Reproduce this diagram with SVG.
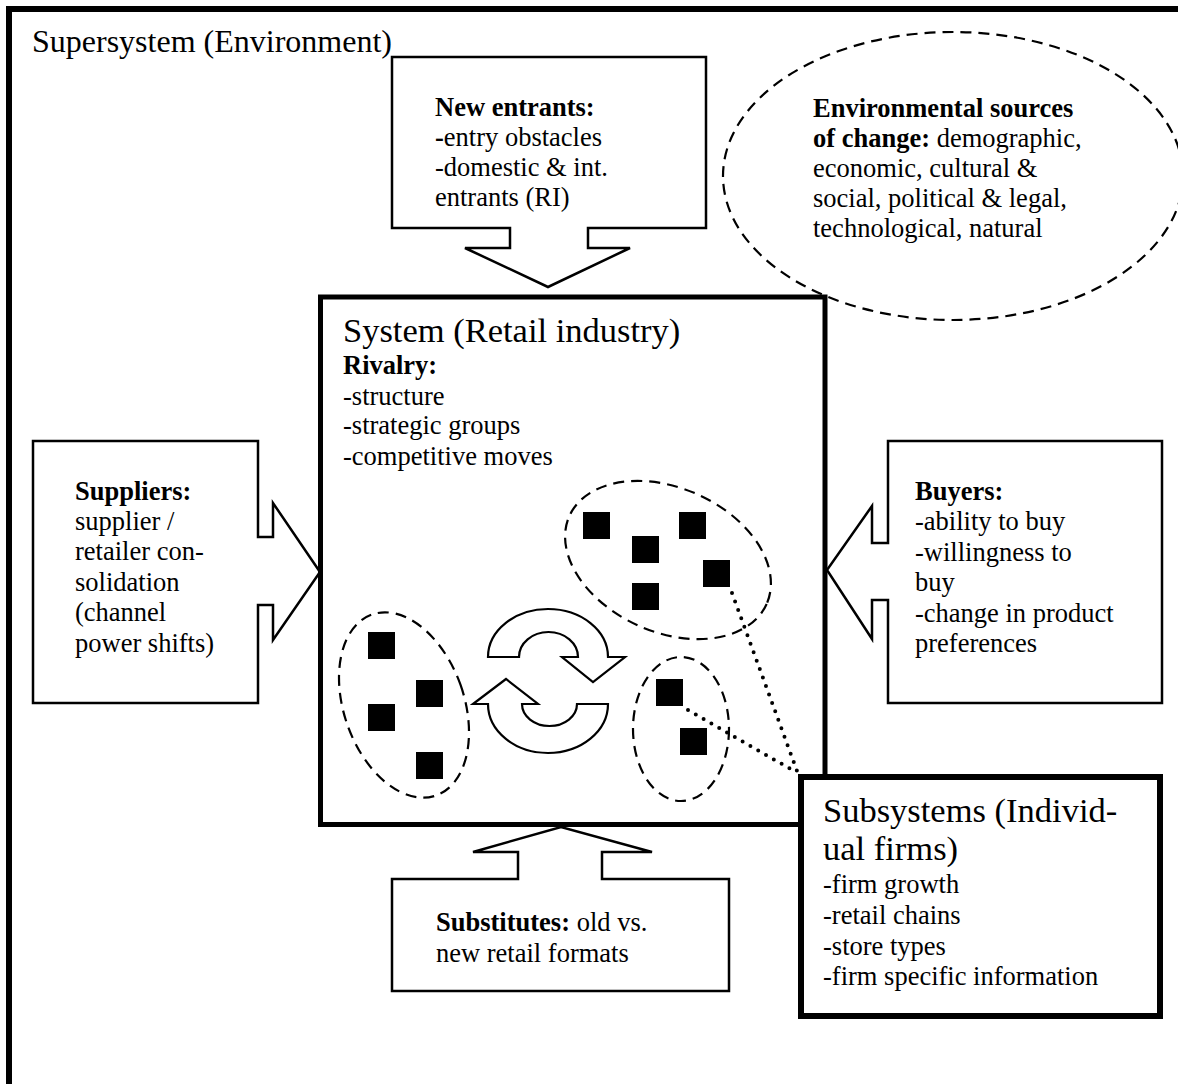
<svg xmlns="http://www.w3.org/2000/svg" width="1178" height="1084" viewBox="0 0 1178 1084">
<style>
text{font-family:"Liberation Serif","Times New Roman",serif;fill:#000}
.t{font-size:26.5px}
.h{font-size:34.5px}
.b{font-weight:bold}
.arrow{fill:#fff;stroke:#000;stroke-width:2.5;stroke-linejoin:miter}
.dash{fill:none;stroke:#000;stroke-width:2.2;stroke-dasharray:11 7}
.sq{fill:#000}
.dot{fill:none;stroke:#000;stroke-width:4;stroke-linecap:round;stroke-dasharray:0 9}
.cyc{fill:#fff;stroke:#000;stroke-width:2.2}
</style>
<rect width="1178" height="1084" fill="#fff"/>
<g id="supersystem">
<rect x="9" y="9" width="1220" height="1120" fill="none" stroke="#000" stroke-width="6"/>
<text x="32" y="52" style="font-size:32px">Supersystem (Environment)</text>
</g>
<g id="environment">
<ellipse class="dash" cx="953" cy="176" rx="230" ry="144"/>
<text class="t" x="813" y="117"><tspan class="b">Environmental sources</tspan></text>
<text class="t" x="813" y="147"><tspan class="b">of change:</tspan> demographic,</text>
<text class="t" x="813" y="177">economic, cultural &amp;</text>
<text class="t" x="813" y="207">social, political &amp; legal,</text>
<text class="t" x="813" y="237">technological, natural</text>
</g>
<g id="new-entrants">
<path class="arrow" d="M392,57 H706 V228 H588 V248 H630 L548,287 L465,248 H510 V228 H392 Z"/>
<text class="t" x="435" y="116"><tspan class="b">New entrants:</tspan></text>
<text class="t" x="435" y="146"><tspan class="b">-</tspan>entry obstacles</text>
<text class="t" x="435" y="176">-domestic &amp; int.</text>
<text class="t" x="435" y="206">entrants (RI)</text>
</g>
<g id="suppliers">
<path class="arrow" d="M33,441 H258 V537 H273 V503 L320,572 L273,640 V605 H258 V703 H33 Z"/>
<text class="t" x="75" y="500"><tspan class="b">Suppliers:</tspan></text>
<text class="t" x="75" y="530">supplier /</text>
<text class="t" x="75" y="560">retailer con-</text>
<text class="t" x="75" y="591">solidation</text>
<text class="t" x="75" y="621">(channel</text>
<text class="t" x="75" y="652">power shifts)</text>
</g>
<g id="buyers">
<path class="arrow" d="M888,441 H1162 V703 H888 V600 H872 V639 L827,570 L872,506 V543 H888 Z"/>
<text class="t" x="915" y="500"><tspan class="b">Buyers:</tspan></text>
<text class="t" x="915" y="530">-ability to buy</text>
<text class="t" x="915" y="561">-willingness to</text>
<text class="t" x="915" y="591">buy</text>
<text class="t" x="915" y="622">-change in product</text>
<text class="t" x="915" y="652">preferences</text>
</g>
<g id="substitutes">
<path class="arrow" d="M392,879 H518 V852 H473 L561,827 L652,852 H602 V879 H729 V991 H392 Z"/>
<text class="t" x="436" y="931"><tspan class="b">Substitutes:</tspan> old vs.</text>
<text class="t" x="436" y="962">new retail formats</text>
</g>
<g id="system">
<rect x="320.5" y="297" width="504.5" height="527.5" fill="none" stroke="#000" stroke-width="5"/>
<text class="h" x="343" y="342">System (Retail industry)</text>
<text class="t" x="343" y="374"><tspan class="b">Rivalry:</tspan></text>
<text class="t" x="343" y="405">-structure</text>
<text class="t" x="343" y="434">-strategic groups</text>
<text class="t" x="343" y="465">-competitive moves</text>
</g>
<g id="group-upper">
<ellipse class="dash" cx="668" cy="560" rx="108" ry="72" transform="rotate(24 668 560)"/>
<rect class="sq" x="583" y="512" width="27" height="27"/>
<rect class="sq" x="632" y="536" width="27" height="27"/>
<rect class="sq" x="679" y="512" width="27" height="27"/>
<rect class="sq" x="703" y="560" width="27" height="27"/>
<rect class="sq" x="632" y="583" width="27" height="27"/>
</g>
<g id="group-left">
<ellipse class="dash" cx="404" cy="705" rx="60" ry="96" transform="rotate(-19.5 404 705)"/>
<rect class="sq" x="368" y="632" width="27" height="27"/>
<rect class="sq" x="416" y="680" width="27" height="27"/>
<rect class="sq" x="368" y="704" width="27" height="27"/>
<rect class="sq" x="416" y="752" width="27" height="27"/>
</g>
<g id="group-small">
<ellipse class="dash" cx="681" cy="729" rx="48" ry="72"/>
<rect class="sq" x="656" y="679" width="27" height="27"/>
<rect class="sq" x="680" y="728" width="27" height="27"/>
</g>
<g id="cycle">
<path class="cyc" d="M488,657 A60,48 0 0 1 608,657 H625 L593,682 L562,657 H578 A29.5,25 0 0 0 519,657 Z"/>
<path class="cyc" d="M608,704 A60,49 0 0 1 488,704 H473 L506,679 L538,704 H522 A27.5,22 0 0 0 577,704 Z"/>
</g>
<g id="connectors">
<line class="dot" x1="732" y1="593" x2="797" y2="771"/>
<line class="dot" x1="688" y1="710" x2="794" y2="771"/>
</g>
<g id="subsystems">
<rect x="801" y="777" width="359" height="239" fill="#fff" stroke="#000" stroke-width="6"/>
<text class="h" x="823" y="822">Subsystems (Individ-</text>
<text class="h" x="823" y="860">ual firms)</text>
<text class="t" x="823" y="893">-firm growth</text>
<text class="t" x="823" y="924">-retail chains</text>
<text class="t" x="823" y="955">-store types</text>
<text class="t" x="823" y="985">-firm specific information</text>
</g>
</svg>
